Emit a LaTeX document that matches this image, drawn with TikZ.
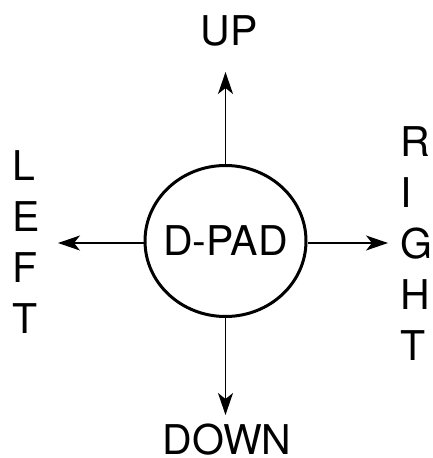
\documentclass[tikz,border=0pt]{standalone}
\usepackage{fontspec}
\setmainfont{TeX Gyre Heros}
\usepackage{tikz}
\usetikzlibrary{arrows.meta,positioning,shapes.geometric}

\begin{document}
\begin{tikzpicture}[x=1pt, y=1pt,
  padbox/.style={draw, ellipse, line width=3pt, minimum width=161pt,
                 minimum height=151pt, inner sep=-25pt, font=\fontsize{41}{51}\selectfont},
  dirlabel/.style={font=\fontsize{41}{51}\selectfont, inner sep=0pt},
  vlabel/.style={dirlabel, align=left, anchor=west},
  arrow/.style={-{Stealth[length=22pt, width=15pt, inset=6pt]}, line width=1.4pt}
]
\useasboundingbox (0,0) rectangle (432,-458);

%% Centre pad
\node[padbox] (pad) at (225.5,-241) {D-PAD};

%% Direction labels
\node[dirlabel] (up) at (229,-31) {UP};
\node[dirlabel] (down) at (227,-440) {DOWN};
\node[vlabel] (left) at (12,-242) {L\\E\\F\\T};
\node[vlabel] (right) at (400,-244) {R\\I\\G\\H\\T};

%% Arrow tips
\coordinate (uptip) at (225.5,-72);
\coordinate (downtip) at (225.5,-415);
\coordinate (lefttip) at (58,-243);
\coordinate (righttip) at (388,-243);

\draw[arrow] (pad.north) -- (uptip);
\draw[arrow] (pad.south) -- (downtip);
\draw[arrow] (pad.west |- lefttip) -- (lefttip);
\draw[arrow] (pad.east |- righttip) -- (righttip);

\end{tikzpicture}
\end{document}
